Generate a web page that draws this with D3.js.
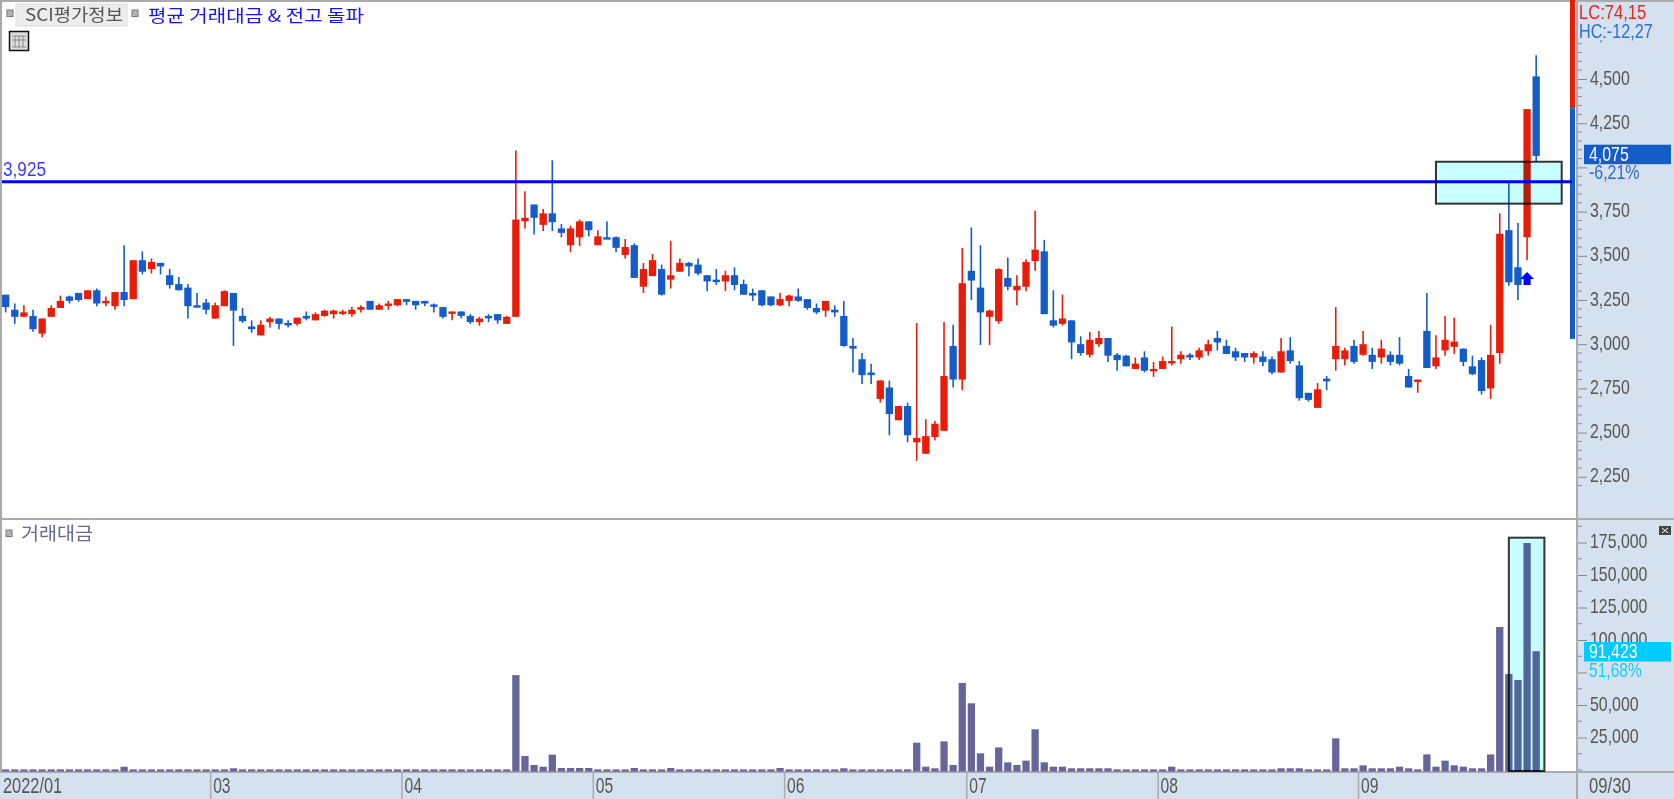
<!DOCTYPE html>
<html><head><meta charset="utf-8">
<style>html,body{margin:0;padding:0;background:#fff;overflow:hidden}svg{display:block}
text{font-family:"Liberation Sans",sans-serif}
.kr{font-family:"Noto Sans CJK KR","Noto Sans",sans-serif}</style>
<script src="https://cdn.jsdelivr.net/npm/d3@7/dist/d3.min.js"></script>
</head><body><svg id="c" width="1674" height="799"></svg>
<script>
const opens=[3280,3195,3155,3160,3060,3155,3205,3270,3290,3255,
3305,3240,3215,3295,3255,3475,3425,3460,3390,3340,
3320,3220,3235,3145,3215,3290,3160,3100,3050,3125,
3145,3120,3115,3160,3135,3160,3170,3180,3170,3195,
3245,3195,3225,3220,3255,3245,3245,3225,3210,3175,
3185,3160,3125,3160,3170,3115,3155,3695,3790,3675,
3740,3655,3560,3605,3695,3560,3605,3605,3505,3560,
3325,3385,3425,3365,3410,3460,3450,3390,3365,3355,
3390,3340,3290,3305,3270,3220,3245,3270,3255,3205,
3190,3195,3160,2990,2915,2840,2690,2755,2570,2650,
2445,2380,2475,2510,2990,2800,3415,3320,3155,3130,
3375,3305,3325,3470,3525,3135,3115,3135,3000,2940,
3000,3035,2940,2935,2860,2925,2850,2860,2900,2915,
2940,2925,2960,3035,2990,2960,2950,2925,2930,2915,
2840,2965,2880,2725,2640,2805,2915,2915,2990,2940,
2940,2925,2940,2940,2820,2790,3075,2875,2965,2985,
2975,2875,2910,2750,2950,3645,3435,3605,4515];
const closes=[3210,3155,3180,3085,3145,3205,3245,3245,3250,3305,
3230,3245,3295,3250,3475,3410,3465,3440,3335,3305,
3215,3215,3195,3220,3300,3190,3130,3085,3110,3145,
3115,3115,3150,3145,3170,3190,3190,3185,3195,3210,
3195,3220,3230,3255,3240,3220,3230,3220,3155,3185,
3160,3125,3145,3155,3135,3155,3705,3715,3715,3740,
3690,3630,3655,3695,3645,3610,3595,3545,3550,3375,
3425,3475,3280,3390,3460,3440,3400,3355,3355,3390,
3335,3280,3275,3220,3220,3255,3275,3245,3205,3180,
3245,3180,2990,2975,2825,2825,2795,2605,2650,2485,
2470,2480,2550,2820,2800,3345,3360,3180,3190,3425,
3325,3330,3465,3535,3170,3105,3145,3010,2950,3025,
3035,2935,2910,2875,2890,2850,2860,2905,2905,2940,
2925,2965,3000,3010,2945,2925,2925,2950,2900,2840,
2960,2905,2695,2685,2745,2790,2990,2965,2900,3000,
2900,2975,2900,2890,2755,2800,2865,2925,3025,3015,
2900,2830,2735,2940,3625,3350,3335,4330,4065];
const highs=[3280,3230,3220,3195,3145,3220,3275,3275,3290,3305,
3315,3270,3295,3560,3475,3525,3485,3460,3425,3380,
3340,3290,3255,3235,3305,3290,3205,3135,3135,3155,
3145,3135,3150,3185,3180,3195,3195,3195,3210,3220,
3245,3230,3245,3255,3255,3245,3245,3230,3210,3185,
3185,3170,3155,3170,3170,3160,4095,3865,3790,3765,
4040,3680,3670,3705,3695,3645,3695,3610,3595,3570,
3460,3510,3450,3585,3485,3465,3485,3390,3425,3415,
3435,3365,3315,3305,3270,3290,3280,3315,3255,3230,
3245,3220,3245,3035,2950,2890,2795,2795,2650,2670,
3120,2575,2565,3125,3110,3545,3660,3560,3195,3430,
3490,3390,3480,3755,3590,3305,3280,3135,3045,3070,
3075,3035,2950,2940,2925,2960,2900,2930,3100,2960,
2950,2980,3025,3075,3025,2980,2950,2960,2960,2930,
3035,3040,2905,2725,2780,2820,3210,2980,3025,3075,
2980,3025,2960,3040,2860,2800,3290,3050,3160,3150,
2975,2935,2925,3110,3740,3915,3685,4330,4635];
const lows=[3180,3115,3155,3070,3040,3155,3205,3230,3240,3255,
3215,3215,3195,3215,3255,3395,3400,3395,3315,3305,
3145,3215,3170,3145,3215,2990,3120,3065,3050,3095,
3085,3095,3105,3135,3135,3155,3145,3165,3155,3180,
3195,3195,3195,3215,3220,3195,3215,3180,3145,3135,
3145,3115,3105,3125,3115,3115,3155,3655,3620,3640,
3640,3605,3520,3555,3610,3560,3595,3520,3485,3375,
3290,3385,3275,3315,3410,3385,3390,3300,3335,3300,
3305,3280,3245,3215,3215,3215,3215,3240,3195,3170,
3155,3155,2985,2840,2775,2775,2670,2485,2570,2445,
2340,2380,2455,2510,2755,2740,3250,2995,2995,3115,
3305,3220,3300,3415,3170,3095,3105,2915,2935,2925,
2985,2900,2850,2875,2860,2840,2815,2860,2880,2890,
2910,2910,2935,2965,2945,2905,2900,2890,2875,2830,
2840,2890,2680,2675,2640,2740,2850,2880,2890,2935,
2860,2890,2880,2880,2755,2725,2865,2860,2935,2945,
2875,2825,2715,2690,2890,3330,3250,3475,4035];
const volumes=[500,500,500,500,500,500,500,500,500,500,
500,500,500,2500,500,500,500,500,500,500,
500,500,500,500,500,1300,500,500,500,500,
500,500,500,500,500,500,500,500,500,500,
500,500,500,500,500,500,500,500,500,500,
500,500,500,500,500,500,73000,10800,3850,2550,
11800,1550,1550,1550,1550,500,500,500,500,1550,
500,500,500,1550,500,500,500,500,500,500,
500,500,500,500,500,1550,500,500,500,500,
500,500,1300,500,500,500,500,500,500,500,
21000,2550,1300,22000,3850,67000,51300,12800,2550,17400,
5900,3850,7200,31300,5900,2550,2550,1300,1300,1300,
1300,1300,500,500,500,500,500,500,2550,500,
500,500,500,500,500,500,500,500,500,500,
1300,1300,1300,500,500,500,24400,1300,1300,3600,
1300,1300,1300,2550,1300,500,12000,2550,7200,3600,
2550,1300,1300,12000,110000,73800,69200,174600,91423];
const monthStarts=[0,23,44,65,86,106,127,149];
const monthLabels=["2022/01","03","04","05","06","07","08","09"];
const lastDateLabel="09/30";
const priceTicks=[2250,2500,2750,3000,3250,3500,3750,4000,4250,4500,4750];
const volumeTicks=[25000,50000,75000,100000,125000,150000,175000];
const hiddenTickLabels=[4000,75000];
const breakoutPrice=3925;
const priceBox=[157,170.8,4032,3795];
const volumeBox=[165,168.9,178700];
const rangeStrip=[4950,4335,3030];
const signalIndex=167;

const RED="#ea1c08",BLUE="#135cc9",BAR="#66669b",BG="#d6e1ef",GRID="#ababab";
const svg=d3.select("#c");
const n=opens.length, idx=d3.range(n);
const x=d3.scaleBand().domain(idx).range([1.145,1.145+9.11*n]).paddingInner(.2).paddingOuter(.1);
const bw=x.bandwidth();
const xc=d3.scaleLinear().domain([0,n-1]).range([x(0)+bw/2,x(n-1)+bw/2]);
const y=d3.scaleLinear().domain([2250,4500]).range([476.8,79]);
const yv=d3.scaleLinear().domain([0,175000]).range([770,542.5]);

function narrow(sel,perDigit){ // tall condensed system-font look
  sel.attr("lengthAdjust","spacingAndGlyphs").attr("textLength",function(){
    const s=this.textContent;let w=0;
    for(const c of s) w+= (c===","||c==="."||c===":")?4.6:(c==="/"?7:(c==="-"?6.5:(c==="%"?13:(/[A-Z]/.test(c)?11:perDigit))));
    return w;});
  return sel;
}
// panels
svg.append("rect").attr("width",1674).attr("height",799).attr("fill","#fff");
svg.append("rect").attr("x",1577).attr("width",97).attr("height",799).attr("fill",BG);
svg.append("rect").attr("y",772).attr("width",1674).attr("height",27).attr("fill",BG);
svg.append("rect").attr("width",1674).attr("height",2).attr("fill",GRID);
svg.append("rect").attr("width",2).attr("height",772).attr("fill",GRID);
svg.append("rect").attr("y",518).attr("width",1674).attr("height",2).attr("fill",GRID);
svg.append("rect").attr("y",771).attr("width",1674).attr("height",2).attr("fill",GRID);
svg.append("rect").attr("x",1576).attr("width",2).attr("height",799).attr("fill",GRID);

// month separators
const sepX=i=>x(i)-(x.step()-bw)/2;
const axB=svg.append("g");
axB.selectAll("line").data(monthStarts.slice(1)).join("line")
  .attr("x1",sepX).attr("x2",sepX).attr("y1",772).attr("y2",799).attr("stroke",GRID).attr("stroke-width",1.5);
axB.selectAll("text").data(monthLabels).join("text")
  .attr("x",(d,i)=>i===0?3:sepX(monthStarts[i])+2.5).attr("y",793).attr("font-size",22).attr("fill","#555").text(d=>d)
  .call(narrow,8.7);
narrow(svg.append("text").attr("x",1589).attr("y",793).attr("font-size",22).attr("fill","#555").text(lastDateLabel),8.7);

// right axes
function rightAxis(scale,majors,minorVals){
  const g=svg.append("g").attr("transform","translate(1578,0)");
  g.call(d3.axisRight(scale).tickValues(majors).tickSize(9).tickPadding(2).tickFormat(d3.format(",")));
  g.select(".domain").remove();
  g.selectAll(".tick line").attr("stroke","#8a8a8a");
  g.selectAll(".tick text").filter(d=>hiddenTickLabels.includes(d)).remove();
  g.selectAll(".tick text").attr("font-family","Liberation Sans").attr("font-size",21).attr("fill","#555").attr("x",12).attr("dy","0.24em").call(narrow,8.8);
  g.selectAll("line.minor").data(minorVals).join("line").attr("class","minor")
    .attr("x1",0).attr("x2",4).attr("y1",scale).attr("y2",scale).attr("stroke","#8a8a8a");
}
rightAxis(y,priceTicks,d3.range(2200,4851,50).filter(d=>d%250));
rightAxis(yv,volumeTicks,[0,12500,37500,62500,87500,112500,137500,162500,187500]);

// range strip
svg.append("g").selectAll("rect").data([0,1]).join("rect")
 .attr("x",1570).attr("width",5).attr("y",i=>y(rangeStrip[i])).attr("height",i=>y(rangeStrip[i+1])-y(rangeStrip[i]))
 .attr("fill",i=>i?BLUE:RED);

// volume bars
svg.append("g").selectAll("rect").data(idx).join("rect")
 .attr("x",i=>x(i)).attr("width",bw).attr("y",i=>yv(volumes[i])).attr("height",i=>yv(0)-yv(volumes[i])+1.5).attr("fill",BAR);

// candles
const gc=svg.append("g");
const col=i=>closes[i]>=opens[i]?RED:BLUE;
gc.selectAll("line").data(idx).join("line")
 .attr("x1",xc).attr("x2",xc).attr("y1",i=>y(highs[i])).attr("y2",i=>y(lows[i])).attr("stroke",col).attr("stroke-width",1.6);
gc.selectAll("rect").data(idx).join("rect")
 .attr("x",i=>x(i)).attr("width",bw).attr("y",i=>y(Math.max(opens[i],closes[i])))
 .attr("height",i=>Math.max(2.4,Math.abs(y(opens[i])-y(closes[i])))).attr("fill",col);

// breakout line
svg.append("line").attr("x1",2).attr("x2",1572).attr("y1",y(breakoutPrice)+1).attr("y2",y(breakoutPrice)+1).attr("stroke","#0000ff").attr("stroke-width",3);
narrow(svg.append("text").attr("x",3).attr("y",176).attr("font-size",20).attr("fill","#3a3aff").text(d3.format(",")(breakoutPrice)),9.6);

// highlight boxes
const box=(x1,x2,y1,y2)=>svg.append("rect").attr("x",xc(x1)).attr("width",xc(x2)-xc(x1)).attr("y",y1).attr("height",y2-y1)
 .attr("fill","#c8ffff").attr("stroke","#333").attr("stroke-width",2).style("mix-blend-mode","multiply");
box(priceBox[0],priceBox[1],y(priceBox[2]),y(priceBox[3]));
box(volumeBox[0],volumeBox[1],yv(volumeBox[2]),771);

// signal arrow
const ax=xc(signalIndex);
svg.append("path").attr("transform",`translate(${ax},285)`).attr("d","M-3.5,0V-6H-7L0,-13L7,-6H3.5V0Z").attr("fill","#0000ff");

// header
const sq=(px,py)=>svg.append("rect").attr("x",px).attr("y",py).attr("width",6).attr("height",6.5).attr("fill","#b4b4b4").attr("stroke","#777").attr("stroke-width",1);
sq(7,10);
svg.append("rect").attr("x",16).attr("y",4).attr("width",111).attr("height",22).attr("fill","#ececec").attr("stroke","#dcdcdc");
svg.append("text").attr("class","kr").attr("x",25).attr("y",21).attr("font-size",17).attr("fill","#555").attr("textLength",98).attr("lengthAdjust","spacingAndGlyphs").text("SCI평가정보");
sq(132,10);
svg.append("text").attr("class","kr").attr("x",148).attr("y",22).attr("font-size",17).attr("fill","#1414ff").attr("textLength",216).attr("lengthAdjust","spacingAndGlyphs").text("평균 거래대금 & 전고 돌파");
svg.append("rect").attr("x",9.5).attr("y",31.5).attr("width",19).attr("height",19).attr("fill","#ddd").attr("stroke","#111").attr("stroke-width",1.5);
svg.append("g").selectAll("line").data([15,19,23]).join("line").attr("x1",d=>d).attr("x2",d=>d).attr("y1",36).attr("y2",47).attr("stroke","#888");
svg.append("g").selectAll("line").data([36,40,47]).join("line").attr("x1",12).attr("x2",26).attr("y1",d=>d).attr("y2",d=>d).attr("stroke","#888");
sq(6,530);
svg.append("text").attr("class","kr").attr("x",21).attr("y",540).attr("font-size",18).attr("fill",BAR).attr("textLength",72).attr("lengthAdjust","spacingAndGlyphs").text("거래대금");
svg.append("rect").attr("x",1659).attr("y",526).attr("width",12).attr("height",9).attr("fill","#444");
svg.append("path").attr("d","M1662,528L1668,533M1668,528L1662,533").attr("stroke","#fff").attr("stroke-width",1);

// right side labels
svg.append("rect").attr("x",1578).attr("y",2).attr("width",96).attr("height",38).attr("fill",BG);
narrow(svg.append("text").attr("x",1579).attr("y",19).attr("font-size",20).attr("fill","#e8281a").text("LC:74,15"),9);
narrow(svg.append("text").attr("x",1579).attr("y",38).attr("font-size",20).attr("fill","#2f6fd8").text("HC:-12,27"),9);
svg.append("rect").attr("x",1584).attr("y",144.7).attr("width",87).attr("height",19.5).attr("fill",BLUE);
narrow(svg.append("text").attr("x",1589).attr("y",161).attr("font-size",21).attr("fill","#fff").text("4,075"),8.8);
narrow(svg.append("text").attr("x",1589).attr("y",179).attr("font-size",20).attr("fill","#2a6ad2").text("-6,21%"),8.8);
svg.append("rect").attr("x",1584).attr("y",642).attr("width",87).attr("height",19.5).attr("fill","#00ccff");
narrow(svg.append("text").attr("x",1589).attr("y",658).attr("font-size",21).attr("fill","#fff").text("91,423"),8.8);
narrow(svg.append("text").attr("x",1589).attr("y",677).attr("font-size",20).attr("fill","#19cdfa").text("51,68%"),8.8);
</script></body></html>
